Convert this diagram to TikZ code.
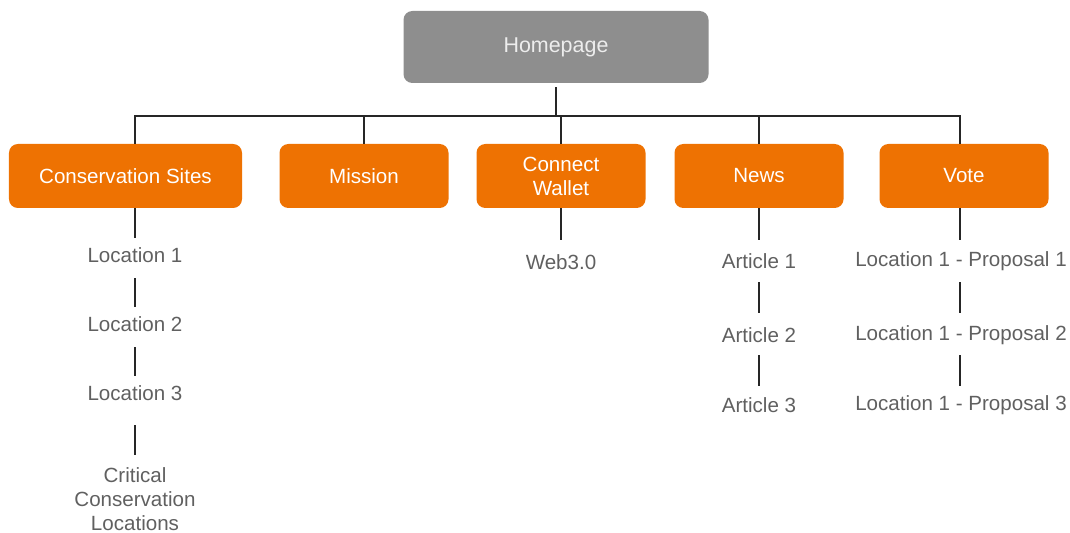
\documentclass[tikz,border=0pt]{standalone}
\usepackage{fontspec}
\setmainfont{Liberation Sans}
\usepackage{xcolor}
\usepackage{tikz}
\usetikzlibrary{positioning}

\definecolor{siteorange}{RGB}{238,114,2}
\definecolor{homegray}{RGB}{142,142,142}
\definecolor{leafgray}{RGB}{96,96,96}

\begin{document}
\begin{tikzpicture}[
      topbox/.style={draw=none, fill=homegray, rounded corners=5pt,
                     minimum height=1.44cm, minimum width=6.1cm,
                     text=white!93!black, font=\fontsize{12.2}{14}\selectfont},
      pagebox/.style={draw=none, fill=siteorange, rounded corners=5pt,
                      minimum height=1.28cm, minimum width=3.38cm,
                      text=white, align=center,
                      font=\fontsize{11.7}{13.6}\selectfont},
      leaf/.style={text=leafgray, inner sep=0pt, align=center,
                   font=\fontsize{11.7}{13.6}\selectfont},
      link/.style={line width=1.15pt, black!85}
    ]

    \useasboundingbox (0,0) rectangle (21.4,-10.66);

    %% ---- top level ----
    \node[topbox] at (11.12,-0.94) (home) {Homepage};
    \coordinate (bus) at (0,-2.32);

    %% ---- second level ----
    \node[pagebox, minimum width=4.66cm] at (2.51,-3.52)  (cons)   {Conservation Sites};
    \node[pagebox] at (7.28,-3.52)  (mission) {Mission};
    \node[pagebox] at (11.22,-3.52) (wallet)  {Connect\\Wallet};
    \node[pagebox] at (15.18,-3.52) (news)    {News};
    \node[pagebox] at (19.28,-3.52) (vote)    {Vote};

    %% ---- leaves ----
    %% conservation sites
    \node[leaf] at (2.70,-5.10)  (loc1) {Location 1};
    \node[leaf] at (2.70,-6.48)  (loc2) {Location 2};
    \node[leaf] at (2.70,-7.86)  (loc3) {Location 3};
    \node[leaf] at (2.70,-9.98)  (crit) {Critical\\Conservation\\Locations};

    %% wallet
    \node[leaf] at (11.22,-5.24) (web3) {Web3.0};

    %% news
    \node[leaf] at (15.18,-5.22) (art1) {Article 1};
    \node[leaf] at (15.18,-6.70) (art2) {Article 2};
    \node[leaf] at (15.18,-8.10) (art3) {Article 3};

    %% vote
    \node[leaf] at (19.22,-5.22) (prop1) {Location 1 - Proposal 1};
    \node[leaf] at (19.22,-6.70) (prop2) {Location 1 - Proposal 2};
    \node[leaf] at (19.22,-8.10) (prop3) {Location 1 - Proposal 3};

    %% ---- edges ----

    %% homepage down to the bus, bus across
    \draw[link, shorten <=0.08cm] (home.south) -- (home.south |- bus);
    \draw[link] (loc1 |- cons.north) -- (loc1 |- bus)
                -- (19.20,-2.32) -- (19.20,-2.88);
    \foreach \p in {mission, wallet, news}
      \draw[link] (\p.north) -- (\p.north |- bus);

    %% boxes down to their first leaf
    \draw[link, shorten >=0.34cm] (loc1 |- cons.south) -- (loc1.center);
    \draw[link, shorten >=0.44cm] (web3 |- wallet.south) -- (web3.center);
    \draw[link, shorten >=0.42cm] (art1 |- news.south) -- (art1.center);
    \draw[link, shorten >=0.42cm] (19.20,-4.16) -- (19.20,-5.22);

    %% leaf to leaf
    \draw[link, shorten <=0.46cm, shorten >=0.34cm] (loc1.center) -- (loc2.center);
    \draw[link, shorten <=0.46cm, shorten >=0.34cm] (loc2.center) -- (loc3.center);
    \draw[link, shorten <=0.64cm, shorten >=0.88cm] (loc3.center) -- (crit.center);
    \draw[link, shorten <=0.42cm, shorten >=0.44cm] (art1.center) -- (art2.center);
    \draw[link, shorten <=0.40cm, shorten >=0.38cm] (art2.center) -- (art3.center);
    \draw[link, shorten <=0.42cm, shorten >=0.44cm] (19.20,-5.22) -- (19.20,-6.70);
    \draw[link, shorten <=0.40cm, shorten >=0.38cm] (19.20,-6.70) -- (19.20,-8.10);

  \end{tikzpicture}
\end{document}
